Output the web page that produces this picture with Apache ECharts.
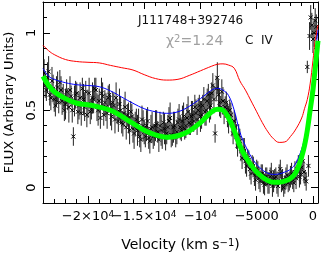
<!DOCTYPE html>
<html><head><meta charset="utf-8">
<script src="https://cdn.jsdelivr.net/npm/echarts@6/dist/echarts.min.js"></script>
<style>html,body{margin:0;padding:0;background:#fff}#c{width:322px;height:255px}</style>
</head><body><div id="c"></div>
<script>
// Observed spectrum (velocity in km/s, normalised flux, 1-sigma error) - first set
const velocity = [
-23900,-23700,-23500,-23300,-23100,-22900,-22700,-22500,-22300,-22100,
-21900,-21700,-21500,-21300,-21100,-20900,-20700,-20500,-20300,-20100,
-19900,-19700,-19500,-19300,-19100,-18900,-18700,-18500,-18300,-18100,
-17900,-17700,-17500,-17300,-17100,-16900,-16700,-16500,-16300,-16100,
-15900,-15700,-15500,-15300,-15100,-14900,-14700,-14500,-14300,-14100,
-13900,-13700,-13500,-13300,-13100,-12900,-12700,-12500,-12300,-12100,
-11900,-11700,-11500,-11300,-11100,-10900,-10700,-10500,-10300,-10100,
-9900,-9700,-9500,-9300,-9100,-8900,-8700,-8500,-8300,-8100,
-7900,-7700,-7500,-7300,-7100,-6900,-6700,-6500,-6300,-6100,
-5900,-5700,-5500,-5300,-5100,-4900,-4700,-4500,-4300,-4100,
-3900,-3700,-3500,-3300,-3100,-2900,-2700,-2500,-2300,-2100,
-1900,-1700,-1500,-1300,-1100,-900,-700,-500,-300,-100,
100,300];
const flux = [
0.74,0.63,0.75,0.58,0.64,0.53,0.65,0.68,0.56,0.50,
0.62,0.52,0.59,0.33,0.60,0.49,0.58,0.64,0.52,0.47,
0.61,0.51,0.57,0.63,0.50,0.45,0.59,0.55,0.48,0.60,
0.46,0.53,0.58,0.43,0.50,0.41,0.52,0.47,0.37,0.46,
0.35,0.44,0.42,0.31,0.40,0.33,0.43,0.30,0.39,0.34,
0.41,0.31,0.37,0.42,0.33,0.39,0.45,0.34,0.40,0.36,
0.44,0.37,0.46,0.40,0.49,0.41,0.47,0.52,0.44,0.53,
0.47,0.57,0.50,0.60,0.53,0.66,0.35,0.71,0.55,0.62,
0.49,0.55,0.44,0.47,0.35,0.39,0.27,0.30,0.19,0.24,
0.14,0.18,0.09,0.14,0.05,0.11,0.04,0.09,0.02,0.07,
0.03,0.10,0.04,0.07,0.01,0.12,0.05,0.02,0.08,0.04,
0.09,0.03,0.06,0.15,0.09,0.17,0.06,0.78,0.98,1.05,
1.00,1.04];
const fluxErr = [
0.09,0.07,0.10,0.08,0.09,0.07,0.10,0.08,0.09,0.07,
0.08,0.10,0.07,0.06,0.09,0.08,0.10,0.07,0.09,0.08,
0.10,0.07,0.09,0.08,0.10,0.07,0.09,0.08,0.10,0.07,
0.09,0.08,0.10,0.07,0.09,0.08,0.10,0.07,0.09,0.08,
0.10,0.07,0.09,0.08,0.10,0.07,0.09,0.08,0.10,0.07,
0.09,0.08,0.10,0.07,0.09,0.08,0.10,0.07,0.09,0.08,
0.10,0.07,0.09,0.08,0.10,0.07,0.09,0.08,0.10,0.07,
0.09,0.08,0.10,0.07,0.09,0.08,0.06,0.10,0.09,0.08,
0.08,0.07,0.09,0.08,0.07,0.08,0.07,0.08,0.07,0.08,
0.07,0.06,0.07,0.06,0.07,0.06,0.07,0.06,0.07,0.06,
0.07,0.06,0.07,0.06,0.07,0.06,0.07,0.06,0.07,0.06,
0.07,0.06,0.07,0.06,0.07,0.06,0.05,0.04,0.09,0.08,
0.09,0.08];

// Observed spectrum - interleaved second set
const velocityB = [
-23800,-23600,-23400,-23200,-23000,-22800,-22600,-22400,-22200,-22000,
-21800,-21600,-21400,-21200,-21000,-20800,-20600,-20400,-20200,-20000,
-19800,-19600,-19400,-19200,-19000,-18800,-18600,-18400,-18200,-18000,
-17800,-17600,-17400,-17200,-17000,-16800,-16600,-16400,-16200,-16000,
-15800,-15600,-15400,-15200,-15000,-14800,-14600,-14400,-14200,-14000,
-13800,-13600,-13400,-13200,-13000,-12800,-12600,-12400,-12200,-12000,
-11800,-11600,-11400,-11200,-11000,-10800,-10600,-10400,-10200,-10000,
-9800,-9600,-9400,-9200,-9000,-8800,-8600,-8400,-8200,-8000,
-7800,-7600,-7400,-7200,-7000,-6800,-6600,-6400,-6200,-6000,
-5800,-5600,-5400,-5200,-5000,-4800,-4600,-4400,-4200,-4000,
-3800,-3600,-3400,-3200,-3000,-2800,-2600,-2400,-2200,-2000,
-1800,-1600,-1400,-1200,-1000,-800,-600,-400,-200,0,
200];
const fluxB = [
0.66,0.71,0.60,0.69,0.57,0.62,0.55,0.63,0.59,0.54,
0.57,0.63,0.50,0.56,0.61,0.53,0.48,0.57,0.62,0.54,
0.49,0.58,0.64,0.52,0.56,0.61,0.47,0.52,0.58,0.50,
0.55,0.44,0.49,0.54,0.42,0.48,0.39,0.45,0.49,0.38,
0.41,0.37,0.33,0.44,0.36,0.40,0.32,0.38,0.33,0.40,
0.36,0.40,0.33,0.38,0.35,0.43,0.34,0.39,0.33,0.42,
0.39,0.43,0.38,0.45,0.42,0.46,0.43,0.48,0.50,0.46,
0.53,0.49,0.56,0.52,0.61,0.57,0.64,0.60,0.52,0.56,
0.52,0.47,0.50,0.41,0.43,0.33,0.34,0.25,0.25,0.17,
0.19,0.12,0.15,0.08,0.12,0.06,0.09,0.03,0.07,0.03,
0.07,0.01,0.06,0.03,0.09,0.04,0.00,0.06,0.03,0.07,
0.05,0.10,0.12,0.07,0.13,0.10,0.04,0.14,1.10,0.96,
1.08];
const fluxErrB = [
0.08,0.10,0.07,0.09,0.08,0.10,0.07,0.09,0.08,0.10,
0.07,0.09,0.08,0.10,0.07,0.09,0.08,0.10,0.07,0.09,
0.08,0.10,0.07,0.09,0.08,0.10,0.07,0.09,0.08,0.10,
0.07,0.09,0.08,0.10,0.07,0.09,0.08,0.10,0.07,0.09,
0.08,0.10,0.07,0.09,0.08,0.10,0.07,0.09,0.08,0.10,
0.07,0.09,0.08,0.10,0.07,0.09,0.08,0.10,0.07,0.09,
0.08,0.10,0.07,0.09,0.08,0.10,0.07,0.09,0.08,0.10,
0.07,0.09,0.08,0.10,0.07,0.09,0.08,0.10,0.07,0.09,
0.07,0.08,0.07,0.08,0.07,0.08,0.07,0.08,0.07,0.08,
0.06,0.07,0.06,0.07,0.06,0.07,0.06,0.07,0.06,0.07,
0.06,0.07,0.06,0.07,0.06,0.07,0.06,0.07,0.06,0.07,
0.06,0.07,0.06,0.07,0.06,0.07,0.06,0.07,0.08,0.09,
0.08];

// Model curves
const curveVel = [-24000,-23500,-23000,-22000,-21000,-20000,-19000,-18000,-17000,-16000,
-15000,-14000,-13000,-12000,-11000,-10000,-9000,-8500,-8000,-7500,
-7000,-6500,-6000,-5500,-5000,-4500,-4000,-3500,-3000,-2500,
-2000,-1500,-1000,-750,-500,-250,0,200,450];
const redModel = [0.92,0.885,0.86,0.828,0.815,0.81,0.806,0.79,0.775,0.76,
0.73,0.705,0.695,0.70,0.725,0.755,0.785,0.797,0.80,0.792,
0.772,0.69,0.63,0.56,0.49,0.42,0.36,0.315,0.292,0.295,
0.33,0.38,0.45,0.51,0.57,0.67,0.82,0.95,1.05];
const blueModel = [0.77,0.72,0.70,0.678,0.665,0.66,0.652,0.625,0.585,0.545,
0.51,0.49,0.48,0.49,0.525,0.575,0.63,0.642,0.63,0.595,
0.50,0.36,0.27,0.20,0.15,0.115,0.092,0.085,0.088,0.10,
0.118,0.16,0.25,0.32,0.42,0.56,0.71,0.86,1.02];
const greenFit = [0.72,0.66,0.62,0.575,0.545,0.535,0.52,0.50,0.46,0.415,
0.37,0.34,0.325,0.335,0.365,0.42,0.49,0.507,0.50,0.45,
0.37,0.27,0.20,0.145,0.10,0.068,0.045,0.035,0.035,0.042,
0.058,0.10,0.20,0.27,0.37,0.50,0.63,0.77,0.95];

// Tick labels (split in two alternating groups so neighbours never get auto-hidden)
const xMajorTicks = [-20000,-15000,-10000,-5000,0];
const xTickBase = ['−2×10','−1.5×10','−10','−5000','0'];
const xTickExp  = ['4','4','4','',''];
const xLabelsA = [-20000,-10000,0];
const xLabelsB = [-15000,-5000];
const yMajorTicks = [0,0.5,1];
const yTickLabels = ['0','0.5','1'];

const FONT = 'DejaVu Sans';
const X_MIN = -24000, X_MAX = 450, Y_MIN = -0.1, Y_MAX = 1.2;
const gridBox = {left:43, right:4, top:2, bottom:52, containLabel:false, outerBoundsMode:'none'};

function pairs(xs, ys){ return xs.map((x,i)=>[x, ys[i]]); }

const minorX = (pos) => ({
  type:'value', gridIndex:0, position:pos, min:X_MIN, max:X_MAX, interval:1000,
  axisLine:{show:true, onZero:false, lineStyle:{color:'#000', width:1}},
  axisTick:{show:true, inside:true, length:4, lineStyle:{color:'#000', width:1}},
  axisLabel:{show:false}, splitLine:{show:false}
});
const minorY = (pos) => ({
  type:'value', gridIndex:0, position:pos, min:Y_MIN, max:Y_MAX, interval:0.1,
  axisLine:{show:true, onZero:false, lineStyle:{color:'#000', width:1}},
  axisTick:{show:true, inside:true, length:4, lineStyle:{color:'#000', width:1}},
  axisLabel:{show:false}, splitLine:{show:false}
});
function xLabelFmt(v){
  const i = xMajorTicks.indexOf(v); if (i < 0) return '';
  return xTickExp[i] ? '{b|'+xTickBase[i]+'}{s|'+xTickExp[i]+'}' : '{b|'+xTickBase[i]+'}';
}
const xLabelRich = {b:{fontFamily:FONT, fontSize:13, color:'#000'},
                    s:{fontFamily:FONT, fontSize:9, color:'#000', verticalAlign:'top'}};
const labelAxis = (gi, vals, withTicks) => ({
  type:'value', gridIndex:gi, position:'bottom', min:X_MIN, max:X_MAX,
  axisLine:{show:false, onZero:false},
  axisTick:{show:withTicks, inside:true, length:7, customValues:xMajorTicks, lineStyle:{color:'#000'}},
  axisLabel:{show:true, customValues:vals, margin:7, hideOverlap:false,
    showMinLabel:true, showMaxLabel:true, formatter:xLabelFmt, rich:xLabelRich},
  splitLine:{show:false}
});

const xBottom = minorX('bottom');
xBottom.name = 'Velocity (km s{sup|−1})';
xBottom.nameLocation = 'middle';
xBottom.nameGap = 35;
xBottom.nameTextStyle = {fontFamily:FONT, fontSize:14, color:'#000',
  rich:{sup:{fontFamily:FONT, fontSize:10, verticalAlign:'top', color:'#000'}}};
const yLeft = minorY('left');
yLeft.name = 'FLUX (Arbitrary Units)';
yLeft.nameLocation = 'middle';
yLeft.nameGap = 27;
yLeft.nameRotate = 90;
yLeft.nameTextStyle = {fontFamily:FONT, fontSize:13, color:'#000'};

function errRender(params, api){
  const x = api.value(0), y = api.value(1), e = api.value(2);
  const p = api.coord([x, y]);
  const lo = api.coord([x, y - e]), hi = api.coord([x, y + e]);
  const s = 2;
  return {type:'group', children:[
    {type:'line', shape:{x1:lo[0], y1:lo[1], x2:hi[0], y2:hi[1]}, style:{stroke:'#222', lineWidth:1}},
    {type:'line', shape:{x1:p[0]-s, y1:p[1]-s, x2:p[0]+s, y2:p[1]+s}, style:{stroke:'#000', lineWidth:1}},
    {type:'line', shape:{x1:p[0]-s, y1:p[1]+s, x2:p[0]+s, y2:p[1]-s}, style:{stroke:'#000', lineWidth:1}}
  ]};
}

const option = {
  animation:false,
  backgroundColor:'#fff',
  grid:[Object.assign({}, gridBox), Object.assign({}, gridBox), Object.assign({}, gridBox)],
  xAxis:[
    xBottom,
    minorX('top'),
    labelAxis(1, xLabelsA, true),
    {type:'value', gridIndex:1, position:'top', min:X_MIN, max:X_MAX,
      axisLine:{show:false, onZero:false},
      axisTick:{show:true, inside:true, length:7, customValues:xMajorTicks, lineStyle:{color:'#000'}},
      axisLabel:{show:false}, splitLine:{show:false}},
    labelAxis(2, xLabelsB, false)
  ],
  yAxis:[
    yLeft,
    minorY('right'),
    {type:'value', gridIndex:1, position:'left', min:Y_MIN, max:Y_MAX,
      axisLine:{show:false, onZero:false},
      axisTick:{show:true, inside:true, length:7, customValues:yMajorTicks, lineStyle:{color:'#000'}},
      axisLabel:{show:true, customValues:yMajorTicks, rotate:90, margin:5, hideOverlap:false,
        showMinLabel:true, showMaxLabel:true,
        fontFamily:FONT, fontSize:13, color:'#000',
        formatter:function(v){ const i = yMajorTicks.findIndex(t=>Math.abs(t-v)<1e-9); return i<0?'':yTickLabels[i]; }},
      splitLine:{show:false}},
    {type:'value', gridIndex:1, position:'right', min:Y_MIN, max:Y_MAX,
      axisLine:{show:false, onZero:false},
      axisTick:{show:true, inside:true, length:7, customValues:yMajorTicks, lineStyle:{color:'#000'}},
      axisLabel:{show:false}, splitLine:{show:false}},
    {type:'value', gridIndex:2, position:'left', min:Y_MIN, max:Y_MAX, show:false}
  ],
  series:[
    {type:'custom', xAxisIndex:0, yAxisIndex:0, clip:true,
      data: velocity.map((v,i)=>[v, flux[i], fluxErr[i]]), renderItem:errRender},
    {type:'custom', xAxisIndex:0, yAxisIndex:0, clip:true,
      data: velocityB.map((v,i)=>[v, fluxB[i], fluxErrB[i]]), renderItem:errRender},
    {type:'line', xAxisIndex:0, yAxisIndex:0, data:pairs(curveVel, redModel), smooth:0.4,
      showSymbol:false, symbol:'none', lineStyle:{color:'#ff0000', width:1}},
    {type:'line', xAxisIndex:0, yAxisIndex:0, data:pairs(curveVel, blueModel), smooth:0.4,
      showSymbol:false, symbol:'none', lineStyle:{color:'#0000ff', width:1}},
    {type:'line', xAxisIndex:0, yAxisIndex:0, data:pairs(curveVel, greenFit), smooth:0.4,
      showSymbol:false, symbol:'none', lineStyle:{color:'#00ff00', width:5}}
  ],
  graphic:[
    {type:'text', left:138, top:15, style:{text:'J111748+392746', font:'12px "DejaVu Sans"', fill:'#111'}},
    {type:'text', left:166, top:34, style:{
      text:'{c|χ}{s|2}{c|=1.24}', fill:'#a0a0a0',
      rich:{c:{fontFamily:FONT, fontSize:14, fill:'#a0a0a0', color:'#a0a0a0'},
            s:{fontFamily:FONT, fontSize:10, verticalAlign:'top', fill:'#a0a0a0', color:'#a0a0a0'}}}},
    {type:'text', left:245, top:35, style:{text:'C  IV', font:'12px "DejaVu Sans"', fill:'#111'}}
  ]
};
const chart = echarts.init(document.getElementById('c'), null, {renderer:'canvas'});
chart.setOption(option);
</script></body></html>
